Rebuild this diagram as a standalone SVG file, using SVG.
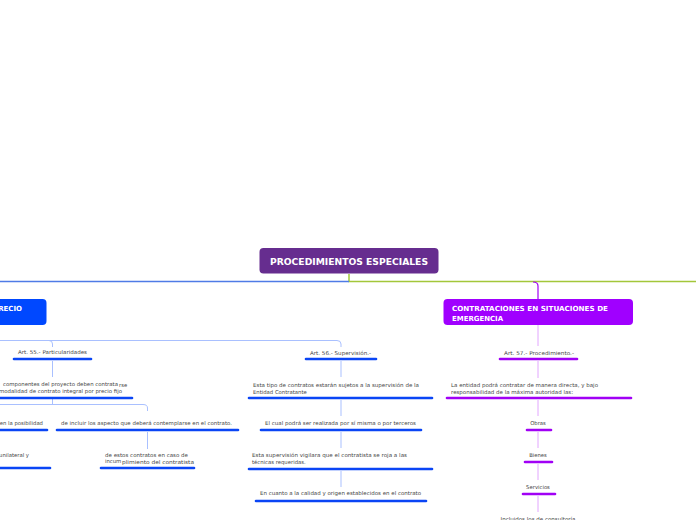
<svg xmlns="http://www.w3.org/2000/svg" width="696" height="520" viewBox="0 0 696 520">
<style>
.t{font-family:"DejaVu Sans",Verdana,sans-serif;font-size:5.3px;fill:#444}
.tb{font-family:"DejaVu Sans",Verdana,sans-serif;font-weight:bold;fill:#fff}
.bb{stroke:#0a45f5;stroke-width:2.6;stroke-linecap:round;fill:none}
.pb{stroke:#a100f5;stroke-width:2.6;stroke-linecap:round;fill:none}
.lb{stroke:#a9c0ff;stroke-width:1;fill:none}
.lp{stroke:#e2a6ff;stroke-width:1;fill:none}
</style>
<rect width="696" height="520" fill="#fff"/>
<g id="connectors">
<path d="M349,274 V281.5 H696" stroke="#a3c73a" stroke-width="1.5" fill="none"/>
<path d="M0,281.5 H349" stroke="#4f7be6" stroke-width="1.5" fill="none"/>
<path d="M533,282 Q538,282 538,286 V299" stroke="#a100f5" stroke-width="1.2" fill="none"/>
<path class="lb" d="M0,340.5 H337 Q341,340.5 341,344 V347"/>
<path class="lb" d="M49,340.5 Q52.5,340.5 52.5,344 V347"/>
<path class="lb" d="M52.5,361 V377"/>
<path class="lb" d="M52.5,399 V404.5"/>
<path class="lb" d="M0,404.5 H143 Q147.5,404.5 147.5,408 V411"/>
<path class="lb" d="M147.5,432 V449"/>
<path class="lb" d="M341,361 V377"/>
<path class="lb" d="M341,400 V416"/>
<path class="lb" d="M341,432 V448"/>
<path class="lb" d="M341,471 V487"/>
<path class="lp" d="M538,325 V346"/>
<path class="lp" d="M538,361 V378"/>
<path class="lp" d="M538,400 V416"/>
<path class="lp" d="M538,432 V448"/>
<path class="lp" d="M538,464 V480"/>
<path class="lp" d="M538,496 V512"/>
</g>
<g id="root">
<rect x="259.5" y="248" width="179" height="25.5" rx="4" fill="#662d8f"/>
<text class="tb" x="349" y="265" font-size="8.6" text-anchor="middle" textLength="158" lengthAdjust="spacingAndGlyphs">PROCEDIMIENTOS ESPECIALES</text>
</g>
<g id="node-precio">
<rect x="-10" y="299" width="56.5" height="26" rx="4" fill="#0048ff"/>
<text class="tb" x="22" y="311" font-size="7" text-anchor="end">RECIO</text>
</g>
<g id="node-emergencia">
<rect x="443.5" y="299" width="189.5" height="26" rx="4" fill="#a000ff"/>
<text class="tb" x="452" y="311" font-size="7" textLength="156" lengthAdjust="spacingAndGlyphs">CONTRATACIONES EN SITUACIONES DE</text>
<text class="tb" x="452" y="320.5" font-size="7" textLength="51" lengthAdjust="spacingAndGlyphs">EMERGENCIA</text>
</g>
<g id="art55">
<text class="t" x="18" y="354" textLength="69" lengthAdjust="spacingAndGlyphs">Art. 55.- Particularidades</text>
<path class="bb" d="M14,359 H91"/>
</g>
<g id="componentes">
<text class="t" x="3" y="386" textLength="115" lengthAdjust="spacingAndGlyphs">componentes del proyecto deben contrata</text>
<text class="t" x="119" y="386.5" font-size="4.2">rse</text>
<text class="t" x="-1" y="393" textLength="123" lengthAdjust="spacingAndGlyphs">modalidad de contrato integral por precio fijo</text>
<path class="bb" d="M0,398 H132"/>
</g>
<g id="posibilidad">
<text class="t" x="43" y="425" text-anchor="end">en la posibilidad</text>
<path class="bb" d="M0,430 H47"/>
</g>
<g id="incluir">
<text class="t" x="61" y="425" textLength="171" lengthAdjust="spacingAndGlyphs">de incluir los aspecto que deberá contemplarse en el contrato.</text>
<path class="bb" d="M57,430 H238"/>
</g>
<g id="unilateral">
<text class="t" x="29" y="457" text-anchor="end">unilateral y</text>
<path class="bb" d="M0,468 H50"/>
</g>
<g id="incumplimiento">
<text class="t" x="105" y="457" textLength="83" lengthAdjust="spacingAndGlyphs">de estos contratos en caso de</text>
<text class="t" x="105" y="463">incum</text>
<text class="t" x="122" y="464" textLength="72" lengthAdjust="spacingAndGlyphs">plimiento del contratista</text>
<path class="bb" d="M101,468 H194"/>
</g>
<g id="art56">
<text class="t" x="310" y="355" textLength="61" lengthAdjust="spacingAndGlyphs">Art. 56.- Supervisión.-</text>
<path class="bb" d="M306,359 H376"/>
</g>
<g id="sujetos">
<text class="t" x="253" y="387" textLength="166" lengthAdjust="spacingAndGlyphs">Esta tipo de contratos estarán sujetos a la supervisión de la</text>
<text class="t" x="253" y="393.5">Entidad Contratante</text>
<path class="bb" d="M249,398 H432"/>
</g>
<g id="terceros">
<text class="t" x="265" y="425" textLength="151" lengthAdjust="spacingAndGlyphs">El cual podrá ser realizada por sí misma o por terceros</text>
<path class="bb" d="M261,430 H421"/>
</g>
<g id="vigilara">
<text class="t" x="252" y="457" textLength="155" lengthAdjust="spacingAndGlyphs">Esta supervisión vigilara que el contratista se roja a las</text>
<text class="t" x="252" y="464">técnicas requeridas.</text>
<path class="bb" d="M249,469 H432"/>
</g>
<g id="calidad">
<text class="t" x="260" y="495" textLength="161" lengthAdjust="spacingAndGlyphs">En cuanto a la calidad y origen establecidos en el contrato</text>
<path class="bb" d="M256,501 H426"/>
</g>
<g id="art57">
<text class="t" x="504" y="355" textLength="70" lengthAdjust="spacingAndGlyphs">Art. 57.- Procedimiento.-</text>
<path class="pb" d="M500,359 H577"/>
</g>
<g id="entidad">
<text class="t" x="451" y="387" textLength="147" lengthAdjust="spacingAndGlyphs">La entidad podrá contratar de manera directa, y bajo</text>
<text class="t" x="451" y="394" textLength="122" lengthAdjust="spacingAndGlyphs">responsabilidad de la máxima autoridad las:</text>
<path class="pb" d="M447,398 H631"/>
</g>
<g id="obras">
<text class="t" x="538" y="425" text-anchor="middle">Obras</text>
<path class="pb" d="M527,430 H551"/>
</g>
<g id="bienes">
<text class="t" x="538" y="457" text-anchor="middle">Bienes</text>
<path class="pb" d="M525,462 H552"/>
</g>
<g id="servicios">
<text class="t" x="538" y="489" text-anchor="middle">Servicios</text>
<path class="pb" d="M523,494 H555"/>
</g>
<g id="consultoria">
<text class="t" x="538" y="521" text-anchor="middle" textLength="75" lengthAdjust="spacingAndGlyphs">Incluidos los de consultoría</text>
</g>
</svg>
